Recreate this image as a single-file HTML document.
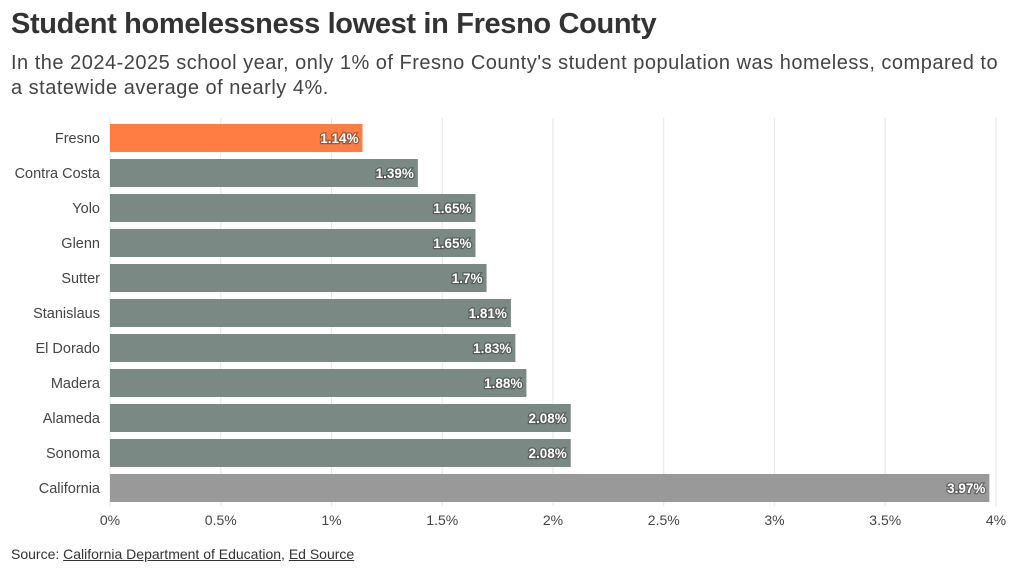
<!DOCTYPE html>
<html><head><meta charset="utf-8"><style>
body{margin:0;width:1020px;height:574px;background:#fff;font-family:"Liberation Sans",sans-serif;overflow:hidden}
h1{position:absolute;left:11px;top:8px;margin:0;font-size:29px;font-weight:bold;color:#333;letter-spacing:-0.35px}
.sub{position:absolute;left:11px;top:51px;width:1005px;font-size:20px;letter-spacing:0.5px;line-height:25px;color:#444;white-space:nowrap}
.src{position:absolute;left:11px;top:546px;font-size:14px;color:#333}
.src a{color:#333;text-decoration:underline}
</style></head><body>
<h1>Student homelessness lowest in Fresno County</h1>
<div class="sub">In the 2024-2025 school year, only 1% of Fresno County's student population was homeless, compared to<br>a statewide average of nearly 4%.</div>
<svg id="chart" width="1020" height="574" style="position:absolute;left:0;top:0"></svg>
<div class="src">Source: <a>California Department of Education</a>, <a>Ed Source</a></div>
<script>
const categories=["Fresno","Contra Costa","Yolo","Glenn","Sutter","Stanislaus","El Dorado","Madera","Alameda","Sonoma","California"];
const values=[1.14,1.39,1.65,1.65,1.7,1.81,1.83,1.88,2.08,2.08,3.97];
const labels=["1.14%","1.39%","1.65%","1.65%","1.7%","1.81%","1.83%","1.88%","2.08%","2.08%","3.97%"];
const ticks=[0,0.5,1,1.5,2,2.5,3,3.5,4];
const tickLabels=["0%","0.5%","1%","1.5%","2%","2.5%","3%","3.5%","4%"];
const svg=document.getElementById('chart');
const NS="http://www.w3.org/2000/svg";
const x=v=>110+v*221.5;
const y=i=>124+i*35;
function mk(t,a){const e=document.createElementNS(NS,t);for(const k in a)e.setAttribute(k,a[k]);svg.appendChild(e);return e;}
ticks.forEach((t,i)=>{
  const g=mk('line',{x1:x(t),x2:x(t),y1:118,y2:506,stroke:'#e6e6e6','stroke-width':1});
  
  
  const tl=mk('text',{x:x(t),y:525,'text-anchor':'middle','font-size':14,fill:'#444'});
  tl.textContent=tickLabels[i];
  
  
});
categories.forEach((c,i)=>{
  const col=i===0?'#ff7c43':(c==='California'?'#999999':'#7a8984');
  const r=mk('rect',{x:x(0),y:y(i),width:x(values[i])-x(0),height:28,fill:col});
  
  
  const cl=mk('text',{x:100,y:y(i)+19,'text-anchor':'end','font-size':14.5,fill:'#444'});
  cl.textContent=c;
  
  
  const vl=mk('text',{x:x(values[i])-4,y:y(i)+19,'text-anchor':'end','font-size':13.5,'font-weight':'bold',fill:'#fff',stroke:'#333','stroke-width':2.5,'stroke-opacity':0.5,'paint-order':'stroke'});
  vl.textContent=labels[i];
  
  
});
</script>
</body></html>
